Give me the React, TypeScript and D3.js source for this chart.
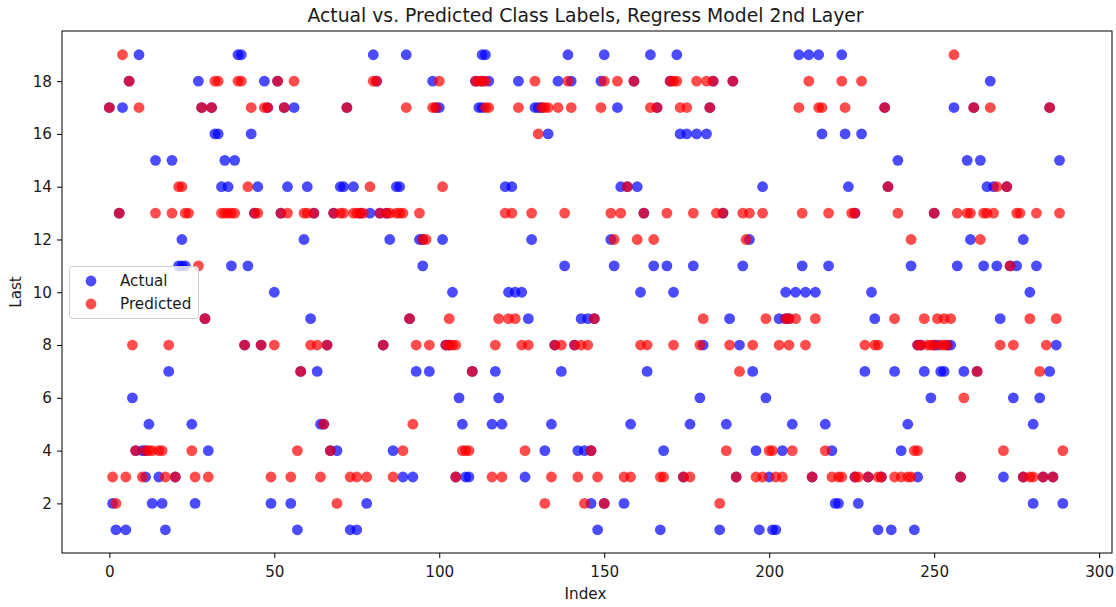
import React, { useEffect, useRef } from 'react';
import * as d3 from 'd3';

// index lists per class label
const actual1 = [2, 5, 17, 57, 73, 75, 148, 167, 185, 197, 201, 202, 233, 237, 244];
const actual2 = [1, 13, 16, 26, 49, 55, 78, 146, 150, 156, 220, 221, 227, 280, 289];
const actual3 = [11, 15, 20, 89, 92, 105, 108, 109, 126, 174, 190, 200, 213, 226, 230, 234, 245, 258, 271, 277, 283, 286];
const actual4 = [8, 10, 11, 30, 67, 69, 86, 132, 142, 144, 146, 168, 196, 204, 219, 240];
const actual5 = [12, 25, 64, 65, 107, 116, 119, 134, 158, 176, 187, 207, 217, 242, 280];
const actual6 = [7, 106, 118, 179, 199, 249, 274, 282];
const actual7 = [18, 58, 63, 93, 97, 110, 117, 137, 163, 195, 229, 238, 247, 252, 253, 259, 263, 285];
const actual8 = [41, 46, 66, 83, 102, 103, 135, 141, 180, 191, 245, 246, 250, 251, 254, 255, 287];
const actual9 = [29, 61, 91, 127, 143, 145, 147, 188, 203, 205, 206, 232, 270];
const actual10 = [50, 104, 121, 123, 125, 161, 171, 205, 208, 211, 214, 231, 279];
const actual11 = [21, 22, 23, 37, 42, 95, 138, 153, 165, 169, 177, 192, 210, 218, 243, 257, 265, 269, 273, 275, 281];
const actual12 = [22, 59, 85, 94, 95, 101, 128, 152, 194, 261, 277];
const actual13 = [3, 44, 52, 62, 68, 76, 79, 82, 84, 162, 186, 226, 250];
const actual14 = [34, 36, 45, 54, 60, 70, 71, 74, 87, 88, 120, 122, 155, 157, 160, 198, 224, 236, 266, 268, 272];
const actual15 = [14, 19, 35, 38, 239, 260, 264, 288];
const actual16 = [32, 33, 43, 133, 173, 175, 178, 181, 216, 223, 228];
const actual17 = [0, 4, 28, 31, 48, 53, 56, 72, 99, 100, 112, 113, 129, 130, 131, 154, 166, 182, 235, 256, 262, 285];
const actual18 = [6, 27, 47, 51, 81, 98, 111, 113, 115, 124, 136, 140, 149, 159, 170, 183, 189, 267];
const actual19 = [9, 39, 40, 80, 90, 113, 114, 139, 150, 164, 172, 209, 212, 215, 222];

const predicted2 = [2, 69, 132, 144, 150, 185];
const predicted3 = [1, 5, 10, 17, 20, 26, 30, 49, 55, 64, 73, 75, 78, 86, 105, 116, 119, 134, 142, 148, 156, 158, 167, 168, 174, 176, 190, 196, 198, 202, 204, 213, 219, 221, 222, 226, 227, 230, 233, 234, 238, 240, 242, 243, 258, 277, 279, 280, 283, 286];
const predicted4 = [8, 11, 12, 13, 15, 16, 25, 57, 67, 89, 107, 108, 109, 126, 146, 187, 200, 201, 207, 217, 244, 245, 271, 289];
const predicted5 = [65, 92];
const predicted6 = [259];
const predicted7 = [58, 110, 191, 263, 282];
const predicted8 = [7, 18, 41, 46, 50, 61, 63, 66, 83, 93, 97, 102, 103, 104, 105, 117, 125, 127, 135, 137, 141, 143, 145, 161, 163, 171, 179, 188, 195, 203, 206, 211, 229, 232, 233, 245, 246, 248, 249, 250, 252, 253, 254, 270, 274, 284];
const predicted9 = [29, 91, 103, 118, 121, 123, 147, 180, 199, 205, 206, 208, 214, 238, 247, 251, 253, 255, 279, 287];
const predicted11 = [27, 273];
const predicted12 = [95, 96, 153, 160, 165, 193, 243, 264];
const predicted13 = [3, 14, 19, 23, 24, 34, 35, 36, 37, 38, 44, 45, 52, 54, 59, 60, 62, 68, 70, 71, 74, 75, 76, 77, 82, 84, 85, 87, 88, 89, 94, 120, 122, 128, 138, 152, 155, 162, 169, 177, 184, 186, 192, 194, 198, 210, 218, 225, 226, 239, 250, 257, 260, 261, 265, 266, 268, 275, 276, 281, 288];
const predicted14 = [21, 22, 42, 79, 101, 157, 236, 269, 272];
const predicted16 = [130];
const predicted17 = [0, 9, 28, 31, 43, 47, 48, 53, 72, 90, 98, 99, 114, 115, 124, 131, 132, 133, 136, 140, 149, 164, 166, 173, 175, 182, 209, 215, 216, 223, 235, 262, 267, 285];
const predicted18 = [6, 32, 33, 39, 40, 51, 56, 80, 81, 100, 111, 112, 113, 114, 129, 139, 150, 154, 159, 170, 171, 172, 178, 181, 183, 189, 212, 222, 228];
const predicted19 = [4, 256];

const actualLevels: [number, number[]][] = [
  [1, actual1], [2, actual2], [3, actual3], [4, actual4], [5, actual5], [6, actual6], [7, actual7],
  [8, actual8], [9, actual9], [10, actual10], [11, actual11], [12, actual12], [13, actual13],
  [14, actual14], [15, actual15], [16, actual16], [17, actual17], [18, actual18], [19, actual19],
];
const predictedLevels: [number, number[]][] = [
  [2, predicted2], [3, predicted3], [4, predicted4], [5, predicted5], [6, predicted6], [7, predicted7],
  [8, predicted8], [9, predicted9], [11, predicted11], [12, predicted12], [13, predicted13],
  [14, predicted14], [16, predicted16], [17, predicted17], [18, predicted18], [19, predicted19],
];

const xTicks = [0, 50, 100, 150, 200, 250, 300];
const yTicks = [2, 4, 6, 8, 10, 12, 14, 16, 18];
const font = '"DejaVu Sans", sans-serif';

const width = 1116;
const height = 607;
const box = { left: 62, right: 1112, top: 31, bottom: 553 };

const x = d3.scaleLinear().domain([-14.34, 303.9]).range([box.left, box.right]);
const y = d3.scaleLinear().domain([0.12, 19.9]).range([box.bottom, box.top]);

const flatten = (levels: [number, number[]][]) =>
  levels.flatMap(([level, idx]) => idx.map(i => ({ i, level }))).sort((a, b) => a.i - b.i);

const App = () => {
  const svgRef = useRef<SVGSVGElement>(null);

  useEffect(() => {
    const svg = d3.select(svgRef.current);
    svg.selectAll('.axis').remove();

    const xAxis = svg.append('g').attr('class', 'axis')
      .attr('transform', `translate(0,${box.bottom})`)
      .call(d3.axisBottom(x).tickValues(xTicks).tickFormat(d3.format('d')).tickSize(5).tickPadding(8));
    const yAxis = svg.append('g').attr('class', 'axis')
      .attr('transform', `translate(${box.left},0)`)
      .call(d3.axisLeft(y).tickValues(yTicks).tickFormat(d3.format('d')).tickSize(5).tickPadding(5));

    [xAxis, yAxis].forEach(a => {
      a.select('.domain').remove();
      a.selectAll('text').attr('font-family', font).attr('font-size', 15.2).attr('fill', '#1a1a1a');
      a.selectAll('line').attr('stroke', '#000').attr('stroke-width', 1);
    });
  }, []);

  return (
    <svg ref={svgRef} width={width} height={height}
      style={{ position: 'absolute', left: 0, top: 0, display: 'block', background: '#fff' }}>
      <g>
        {flatten(actualLevels).map((d, k) => (
          <circle key={k} cx={x(d.i)} cy={y(d.level)} r={5.4} fill="#0000ff" fillOpacity={0.7} />
        ))}
      </g>
      <g>
        {flatten(predictedLevels).map((d, k) => (
          <circle key={k} cx={x(d.i)} cy={y(d.level)} r={5.4} fill="#ff0000" fillOpacity={0.7} />
        ))}
      </g>
      <rect x={box.left} y={box.top} width={box.right - box.left} height={box.bottom - box.top}
        fill="none" stroke="#000" strokeWidth={1} />

      <text x={585.5} y={22} textAnchor="middle" fontFamily={font} fontSize={18.8} fill="#1a1a1a">
        Actual vs. Predicted Class Labels, Regress Model 2nd Layer
      </text>
      <text x={585.5} y={599} textAnchor="middle" fontFamily={font} fontSize={15.2} fill="#1a1a1a">
        Index
      </text>
      <text transform={`translate(21,${(box.top + box.bottom) / 2}) rotate(-90)`} textAnchor="middle"
        fontFamily={font} fontSize={15.2} fill="#1a1a1a">
        Last
      </text>

      <g>
        <rect x={69.5} y={266.5} width={129} height={52} rx={3} fill="#fff" fillOpacity={0.8} stroke="#ccc" />
        <circle cx={91} cy={281} r={5.4} fill="#0000ff" fillOpacity={0.7} />
        <circle cx={91} cy={304} r={5.4} fill="#ff0000" fillOpacity={0.7} />
        <text x={120} y={285.5} fontFamily={font} fontSize={15.2} fill="#1a1a1a">Actual</text>
        <text x={120} y={308.5} fontFamily={font} fontSize={15.2} fill="#1a1a1a">Predicted</text>
      </g>
    </svg>
  );
};

export default App;
